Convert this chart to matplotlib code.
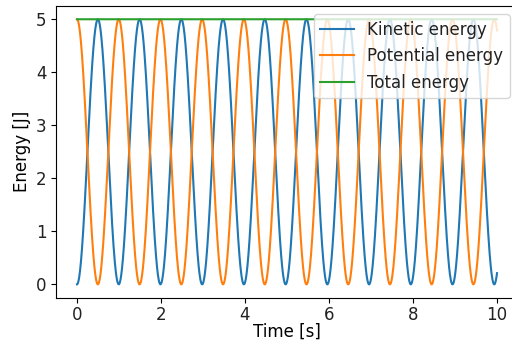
import numpy as np
import matplotlib.pyplot as plt

# harmonic oscillator parameters
mass = 1.0          # kg
spring_k = 10.0     # N/m
amplitude = 1.0     # m  (total energy 0.5*k*A^2 = 5 J)
t_start, t_end = 0.0, 10.0
n_samples = 2000

labels = ["Kinetic energy", "Potential energy", "Total energy"]

t = np.linspace(t_start, t_end, n_samples)
omega = np.sqrt(spring_k / mass)
x = amplitude * np.cos(omega * t)
v = -amplitude * omega * np.sin(omega * t)
kinetic = 0.5 * mass * v**2
potential = 0.5 * spring_k * x**2
total = kinetic + potential

plt.rcParams["font.size"] = 12
plt.rcParams["text.color"] = "#222222"
plt.rcParams["xtick.labelcolor"] = "#222222"
plt.rcParams["ytick.labelcolor"] = "#222222"

fig = plt.figure(figsize=(5.12, 3.42), dpi=100)
ax = fig.add_axes([56 / 512, (342 - 297.6) / 342, 462 / 512, 291.6 / 342])
ax.plot(t, kinetic, label=labels[0])
ax.plot(t, potential, label=labels[1])
ax.plot(t, total, label=labels[2])
# the right edge of the frame falls outside the picture in the reference
ax.spines["right"].set_visible(False)
ax.tick_params(axis="x", pad=2.5)
ax.set_xlabel("Time [s]", labelpad=-1)
ax.set_ylabel("Energy [J]", labelpad=3)
ax.legend(loc="upper right")

fig.savefig("out.png", dpi=100)
